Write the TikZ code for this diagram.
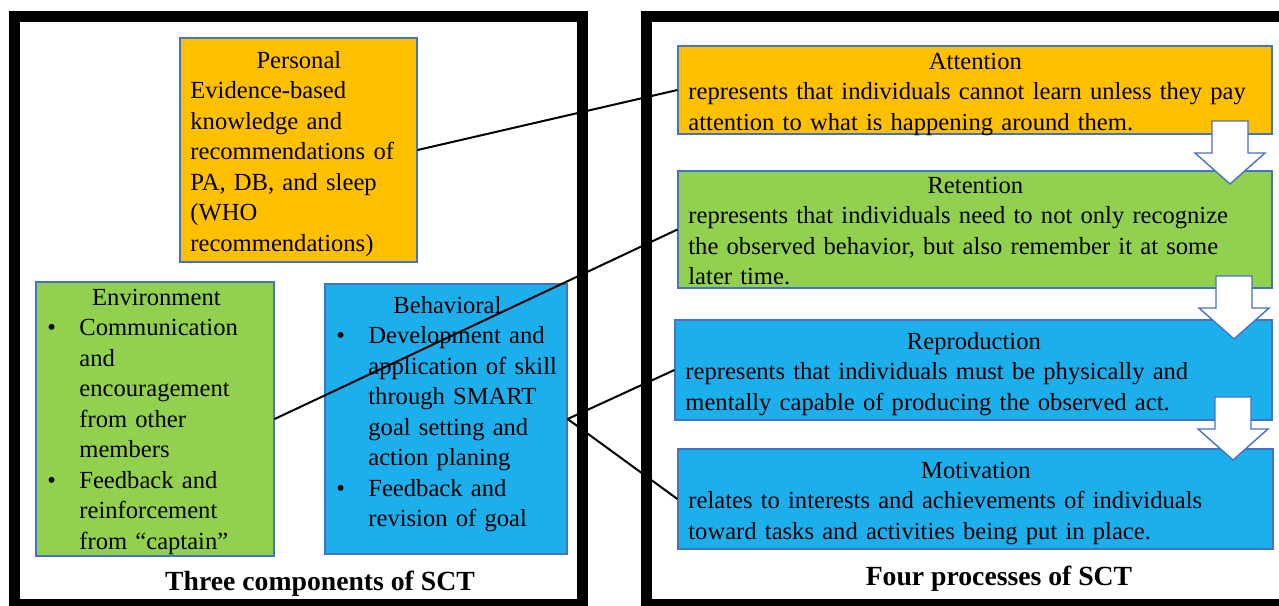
\documentclass[tikz,border=0pt]{standalone}
\usepackage{fontspec}
\setmainfont{Liberation Serif}
\usetikzlibrary{fit}

\definecolor{boxorange}{HTML}{FFC000}
\definecolor{boxgreen}{HTML}{92D050}
\definecolor{boxblue}{HTML}{1CAFEC}
\definecolor{boxedge}{HTML}{4472C4}

% centred first line, bullet item and its indented follow-on lines
\newcommand{\head}[1]{{\centering #1\par}}
\newcommand{\bul}{\makebox[16pt][l]{\textbullet}}
\newcommand{\cont}{\\\hspace*{16pt}}

\tikzset{
  sctbox/.style={draw=boxedge,line width=0.6pt,fill=#1,inner sep=0pt},
  txt/.style={anchor=base west,inner sep=0pt,align=left,font=\fontsize{12.3}{15.25}\selectfont},
  paneltitle/.style={anchor=base,inner sep=0pt,font=\bfseries\fontsize{13.85}{16}\selectfont},
  frame/.style={line width=5.5pt},
  link/.style={line width=1pt},
  flowarrow/.style={draw=boxedge,line width=0.7pt,fill=white,line join=miter}
}

\begin{document}
\begin{tikzpicture}[x=0.5pt,y=-0.5pt]
  \clip (0,0) rectangle (1279,605);
  % the two panels
  \draw[frame] (14,16.5) rectangle (582,604.5);
  \draw[frame] (646,16.5) rectangle (1300,604.5);

  % three components
  \node[sctbox=boxorange, fit={(180,38) (417,262)}] (personal) {};
  \node[sctbox=boxgreen, fit={(36,282) (274,556)}] (environment) {};
  \node[sctbox=boxblue, fit={(325,284) (567,554)}] (behavioral) {};

  \node[txt, text width=108.5pt] (personal-txt) at (190,68)
    {\head{Personal}Evidence-based\\knowledge and\\recommendations of\\PA, DB, and sleep\\(WHO\\recommendations)};
  \node[txt, text width=109pt] (environment-txt) at (47,305)
    {\head{Environment}\bul Communication\cont and\cont encouragement\cont from other\cont members\\
     \bul Feedback and\cont reinforcement\cont from “captain”};
  \node[txt, text width=111pt] (behavioral-txt) at (336,313)
    {\head{Behavioral}\bul Development and\cont application of skill\cont through SMART\cont goal setting and\cont action planing\\
     \bul Feedback and\cont revision of goal};
  \node[paneltitle] (components) at (320,590) {Three components of SCT};

  % four processes
  \node[sctbox=boxorange, fit={(678,46) (1272,134)}] (attention) {};
  \node[sctbox=boxgreen, fit={(678,171) (1272,288)}] (retention) {};
  \node[sctbox=boxblue, fit={(675,320) (1272,420)}] (reproduction) {};
  \node[sctbox=boxblue, fit={(678,449) (1273,549)}] (motivation) {};

  \node[txt, text width=287pt] (attention-txt) at (688,69)
    {\head{Attention}represents that individuals cannot learn unless they pay\\attention to what is happening around them.};
  \node[txt, text width=287pt] (retention-txt) at (688,193)
    {\head{Retention}represents that individuals need to not only recognize\\the observed behavior, but also remember it at some\\later time.};
  \node[txt, text width=288.5pt] (reproduction-txt) at (685,349)
    {\head{Reproduction}represents that individuals must be physically and\\mentally capable of producing the observed act.};
  \node[txt, text width=287.5pt] (motivation-txt) at (688,478)
    {\head{Motivation}relates to interests and achievements of individuals\\toward tasks and activities being put in place.};
  \node[paneltitle] (processes) at (999,585) {Four processes of SCT};

  % block arrows between the processes
  \foreach \cx/\t in {1230/121,1234/276,1233/397}
    \draw[flowarrow] (\cx-18,\t) -- (\cx+18,\t) -- (\cx+18,\t+32) -- (\cx+35,\t+32)
      -- (\cx,\t+63) -- (\cx-35,\t+32) -- (\cx-18,\t+32) -- cycle;

  % links from components to processes
  \draw[link] (personal.east) -- (attention.west);
  \draw[link] (environment.east) -- (retention.west);
  \draw[link] (behavioral.east) -- (reproduction.west);
  \draw[link] (behavioral.east) -- (motivation.west);
\end{tikzpicture}
\end{document}
